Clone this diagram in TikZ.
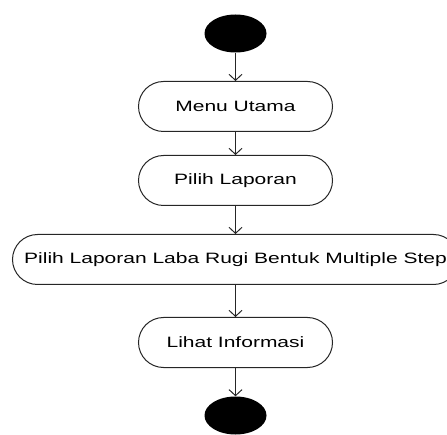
\documentclass[tikz,border=0pt]{standalone}
\usepackage{fontspec}
\setmainfont{Liberation Sans}
\usepackage{graphicx}
\usepackage{tikz}
\usetikzlibrary{positioning,arrows.meta,shapes.geometric}
\newcommand{\actlabel}[1]{\scalebox{1.4}[1]{#1}}

\begin{document}
\begin{tikzpicture}[x=1pt,y=1pt,
  >={Straight Barb[length=6pt,width=13pt]},
  flow/.style={draw=black!85, line width=1pt},
  act/.style={draw=black!85, line width=1pt, rectangle, rounded corners=25pt, minimum height=50pt, inner xsep=6pt, font=\fontsize{15}{18}\selectfont},
  dot/.style={fill=black, ellipse, minimum width=62pt, minimum height=38pt, inner sep=0pt}]
\clip (0,0) rectangle (447,434);
\node[dot] (start) at (235.5,400.5) {};
\node[act, minimum width=194pt] (menu) at (235.5,327.5) {\actlabel{Menu Utama}};
\node[act, minimum width=194pt] (pilih) at (235.5,253.5) {\actlabel{Pilih Laporan}};
\node[act, minimum width=446pt] (laba) at (235.5,174.5) {\actlabel{Pilih Laporan Laba Rugi Bentuk Multiple Step}};
\node[act, minimum width=194pt] (lihat) at (235.5,91.5) {\actlabel{Lihat Informasi}};
\node[dot] (end) at (235.5,18.5) {};
\draw[flow][->] (start) -- (menu);
\draw[flow][->] (menu) -- (pilih);
\draw[flow][->] (pilih) -- (laba);
\draw[flow][->] (laba) -- (lihat);
\draw[flow][->] (lihat) -- (end);
\end{tikzpicture}
\end{document}
